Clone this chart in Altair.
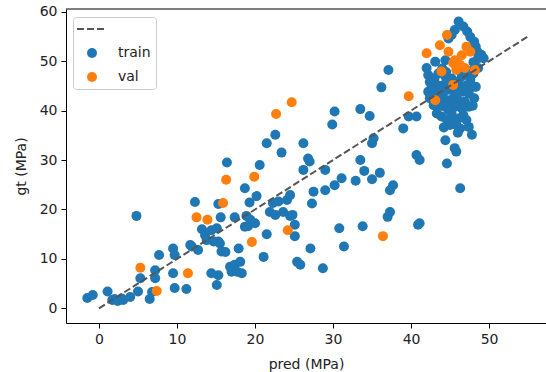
import altair as alt
import pandas as pd

# ---- data (pred, gt) ----
train_low = [(-1.5, 2.1), (-0.8, 2.7), (1.1, 3.4), (1.7, 1.7), (2.0, 1.9), (2.4, 1.5), (2.9, 2.0),
             (3.1, 1.7), (4.0, 2.3), (5.0, 3.4), (5.3, 6.1), (6.5, 1.9), (6.8, 3.3), (7.2, 6.1),
             (7.2, 7.7), (7.7, 10.8), (9.5, 12.1), (9.7, 10.8), (9.5, 7.1), (9.7, 4.1), (11.2, 3.9),
             (11.7, 12.8), (11.9, 12.5), (4.8, 18.7)]
train_mid = [(12.3, 21.5), (15.3, 21.1), (18.7, 24.3), (20.2, 22.7), (19.3, 21.4), (15.6, 18.4),
             (17.4, 18.4), (18.9, 18.7), (19.4, 17.9), (20.0, 17.2), (19.1, 16.6), (18.7, 16.5),
             (21.5, 15.0), (13.2, 16.0), (13.6, 14.8), (14.4, 15.8), (15.1, 16.2), (13.8, 13.8),
             (14.7, 13.5), (15.3, 13.5), (15.5, 13.1), (15.7, 11.5), (16.2, 11.4), (12.7, 11.8),
             (17.9, 12.1), (21.1, 10.4), (22.3, 21.3), (23.0, 21.6), (24.1, 21.9), (24.5, 22.9),
             (21.9, 19.5), (22.6, 18.9), (23.6, 19.5), (24.5, 18.7), (24.8, 18.9), (25.1, 16.9),
             (25.1, 14.6), (14.4, 7.1), (15.1, 4.7), (15.3, 6.7), (16.8, 8.4), (17.4, 8.8), (18.1, 9.4),
             (17.0, 7.4), (17.7, 7.4), (18.3, 7.1), (16.4, 29.5), (20.6, 29.0), (21.5, 33.4),
             (23.4, 31.5), (22.6, 35.1), (25.4, 9.4), (25.8, 8.8)]
train_upper = [(26.2, 33.4), (26.8, 30.3), (27.0, 29.7), (26.2, 28.0), (29.0, 28.0), (30.2, 39.8),
               (29.9, 37.2), (33.5, 40.3), (34.7, 38.9), (37.1, 48.2), (36.2, 44.7), (33.5, 30.0),
               (34.0, 27.8), (35.0, 33.4), (35.2, 34.4), (36.0, 27.4), (35.0, 26.1), (32.9, 25.8),
               (31.1, 26.3), (30.2, 24.9), (29.0, 23.9), (27.5, 23.6), (27.3, 21.2), (30.8, 16.2),
               (33.8, 16.6), (37.0, 18.5), (37.3, 19.5), (37.7, 24.9), (37.3, 23.9), (40.9, 16.9),
               (31.4, 12.5), (28.7, 8.1), (27.1, 12.1), (39.0, 36.4), (39.7, 38.8), (40.7, 38.8),
               (40.7, 31.0), (41.1, 30.0), (46.3, 24.3), (41.1, 17.2)]
train_cluster = [(46.1, 58.0), (46.7, 57.0), (47.2, 56.0), (47.6, 54.9), (48.1, 53.9), (48.3, 52.9),
                 (48.5, 51.9), (45.6, 56.3), (45.2, 55.3), (44.8, 54.6), (49.3, 50.6), (49.0, 51.3),
                 (48.6, 50.6), (48.0, 49.8), (48.6, 48.6),
                 (42.0, 48.6), (42.2, 47.2), (42.4, 45.8), (43.1, 49.9), (44.4, 50.2), (42.2, 43.8),
                 (42.6, 44.5), (43.3, 45.2), (43.5, 47.5), (44.0, 48.5), (43.0, 46.5), (44.2, 45.2),
                 (44.4, 46.9), (45.2, 46.5), (46.5, 46.9), (47.6, 46.2), (47.8, 44.8), (47.4, 43.5),
                 (46.7, 43.8), (46.1, 44.5), (44.8, 44.2), (44.1, 43.5), (43.9, 42.5), (44.6, 42.1),
                 (45.4, 42.5), (46.1, 42.1), (46.9, 41.8), (47.4, 40.8), (46.5, 40.5), (45.7, 40.8),
                 (45.0, 41.1), (44.4, 40.8), (43.5, 40.8), (42.9, 41.1), (42.4, 42.5), (43.0, 43.5),
                 (45.7, 43.2), (48.1, 42.5), (47.9, 41.0), (45.0, 45.5), (46.0, 45.8), (47.0, 45.0),
                 (48.0, 47.5), (47.5, 48.0), (48.3, 44.8), (43.5, 44.0), (45.5, 44.8), (46.8, 47.5),
                 (44.5, 47.8), (45.2, 39.3),
                 (43.3, 39.4), (43.9, 38.8), (44.6, 38.1), (45.0, 37.1), (45.4, 37.7), (46.1, 38.4),
                 (46.7, 39.1), (47.1, 38.1), (47.4, 36.7), (47.8, 35.1), (46.3, 36.4), (45.8, 37.1),
                 (44.8, 40.1), (46.0, 35.5), (44.2, 36.6),
                 (44.4, 34.0), (45.6, 32.4), (45.8, 31.7), (44.6, 29.3)]
val_points = [(5.3, 8.2), (7.4, 3.5), (11.4, 7.1), (12.5, 18.4), (13.9, 17.9), (15.9, 21.3),
              (16.3, 26.0), (19.9, 26.6), (19.6, 13.4), (24.2, 15.8), (22.7, 39.3), (24.7, 41.7),
              (36.4, 14.6), (39.7, 42.9), (42.0, 51.6), (43.1, 42.1), (43.9, 47.9), (44.6, 55.3),
              (43.7, 53.2), (44.8, 51.9), (45.4, 45.2), (47.1, 52.9), (47.6, 51.9), (46.5, 51.2),
              (45.6, 50.2), (45.4, 49.6), (46.3, 49.2), (46.9, 48.6), (45.8, 48.2), (48.2, 48.2)]
line_pred = [0, 55]
line_gt = [0, 55]

set_names = [" ", "train", "val"]
set_colors = ["#555555", "#1f77b4", "#ff7f0e"]
set_shapes = ["M-2.5,0L2.5,0", "circle", "circle"]
set_dashes = [[7, 3], [1, 0], [1, 0]]
set_sizes = [144, 100, 100]
set_widths = [2, 0, 0]
x_ticks = [0, 10, 20, 30, 40, 50]
y_ticks = [0, 10, 20, 30, 40, 50, 60]

train = train_low + train_mid + train_upper + train_cluster
rows = [{"pred": p, "gt": g, "set": "train", "order": 0} for p, g in train]
rows += [{"pred": p, "gt": g, "set": "val", "order": 1} for p, g in val_points]
df = pd.DataFrame(rows)
line_df = pd.DataFrame({"pred": line_pred, "gt": line_gt})

xs = alt.Scale(domain=[-4.23, 57.3], nice=False, zero=False)
ys = alt.Scale(domain=[-2.97, 60.55], nice=False, zero=False)

legend = alt.Legend(
    title=None, orient="none", legendX=7, legendY=8,
    padding=5, rowPadding=10, symbolOffset=7, labelOffset=19,
    labelFontSize=14, labelFont="DejaVu Sans", labelColor="#222222",
    fillColor="rgba(255,255,255,0.8)", strokeColor="#cccccc", cornerRadius=3,
    symbolOpacity=1,
)

points = alt.Chart(df).mark_point(filled=True, opacity=1).encode(
    x=alt.X("pred:Q", scale=xs, title="pred (MPa)",
            axis=alt.Axis(values=x_ticks, format="d")),
    y=alt.Y("gt:Q", scale=ys, title="gt (MPa)",
            axis=alt.Axis(values=y_ticks, format="d")),
    fill=alt.Fill("set:N", scale=alt.Scale(domain=set_names, range=set_colors), legend=legend),
    stroke=alt.Stroke("set:N", scale=alt.Scale(domain=set_names, range=set_colors), legend=legend),
    shape=alt.Shape("set:N", scale=alt.Scale(domain=set_names, range=set_shapes), legend=legend),
    strokeDash=alt.StrokeDash("set:N", scale=alt.Scale(domain=set_names, range=set_dashes), legend=legend),
    size=alt.Size("set:N", scale=alt.Scale(type="ordinal", domain=set_names, range=set_sizes), legend=legend),
    strokeWidth=alt.StrokeWidth("set:N", scale=alt.Scale(type="ordinal", domain=set_names, range=set_widths), legend=legend),
    order=alt.Order("order:Q"),
)

line = alt.Chart(line_df).mark_line(color="#555555", strokeWidth=2, strokeDash=[7, 3]).encode(
    x=alt.X("pred:Q", scale=xs),
    y=alt.Y("gt:Q", scale=ys),
)

top_spine = alt.Chart(alt.Data(values=[{}])).mark_rule(color="black", strokeWidth=1).encode(
    x=alt.value(0), x2=alt.value(480), y=alt.value(0)
)

chart = alt.layer(points, line, top_spine).properties(
    width=480, height=314,
    padding={"left": 66, "top": 9, "right": 0, "bottom": 49},
    autosize=alt.AutoSizeParams(type="none"),
).configure_view(stroke=None).configure_axis(
    grid=False, domainColor="black", tickColor="black", tickSize=5,
    labelFont="DejaVu Sans", labelFontSize=14, labelColor="#222222", labelPadding=4,
    titleFont="DejaVu Sans", titleFontSize=14, titleFontWeight="normal", titleColor="#222222",
).configure_axisX(titlePadding=11).configure_axisY(titlePadding=11)

chart.save("out.html", embed_options={"renderer": "svg", "actions": False})
